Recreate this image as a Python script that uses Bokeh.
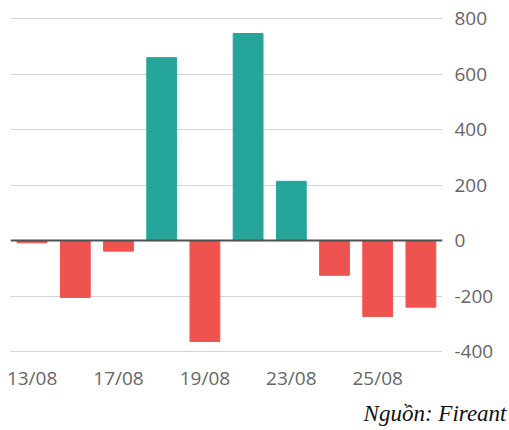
from bokeh.plotting import figure
from bokeh.models import ColumnDataSource, Span, Title, LinearAxis, Range1d
from bokeh.embed import file_html
from bokeh.resources import INLINE

dates = ["13/08", "16/08", "17/08", "18/08", "19/08", "20/08", "23/08", "24/08", "25/08", "26/08"]
values = [-8, -205, -38, 660, -364, 747, 214, -125, -274, -240]
shown_labels = ["13/08", "17/08", "19/08", "23/08", "25/08"]
y_ticks = [-400, -200, 0, 200, 400, 600, 800]

UP = "#26A69A"
DOWN = "#EF5350"
colors = [UP if v >= 0 else DOWN for v in values]
idx = list(range(len(dates)))

src = ColumnDataSource(dict(x=idx, date=dates, top=values, color=colors))

p = figure(width=509, height=430, x_range=Range1d(-0.5, len(dates) - 0.5),
           y_range=Range1d(-418, 830), output_backend="svg", toolbar_location=None,
           y_axis_location=None, min_border_left=10, min_border_right=67,
           min_border_top=10, min_border_bottom=68)
p.outline_line_color = None
p.vbar(x="x", top="top", bottom=0, width=0.69, color="color", source=src)

p.add_layout(Span(location=0, dimension="width", line_color="#505050", line_width=2))

yax = LinearAxis()
yax.ticker = y_ticks
yax.axis_line_color = None
yax.major_tick_line_color = None
yax.minor_tick_line_color = None
yax.major_tick_out = 0
yax.major_tick_in = 0
yax.major_label_standoff = 12
yax.major_label_text_font = "Open Sans"
yax.major_label_text_font_size = "19px"
yax.major_label_text_color = "#666666"
yax.major_label_overrides = {t: str(t) for t in y_ticks}
p.add_layout(yax, "right")

x_tick_pos = [dates.index(d) for d in shown_labels]
xax = p.xaxis[0]
xax.ticker = x_tick_pos
xax.axis_line_color = None
xax.major_tick_line_color = None
xax.minor_tick_line_color = None
xax.major_tick_out = 0
xax.major_tick_in = 0
xax.major_label_standoff = 8
xax.major_label_text_font = "Open Sans"
xax.major_label_text_font_size = "19px"
xax.major_label_text_color = "#666666"
xax.major_label_overrides = {i: d for i, d in zip(x_tick_pos, shown_labels)}

p.xgrid.grid_line_color = None
p.ygrid.grid_line_color = "#d4d4d4"
p.ygrid.ticker = y_ticks

p.add_layout(Title(text="Nguồn: Fireant", align="right", text_font="Liberation Serif",
                   text_font_style="italic", text_font_size="23px", text_color="#111111",
                   offset=-64, standoff=10), "below")

open("out.html", "w").write(file_html(p, INLINE))
